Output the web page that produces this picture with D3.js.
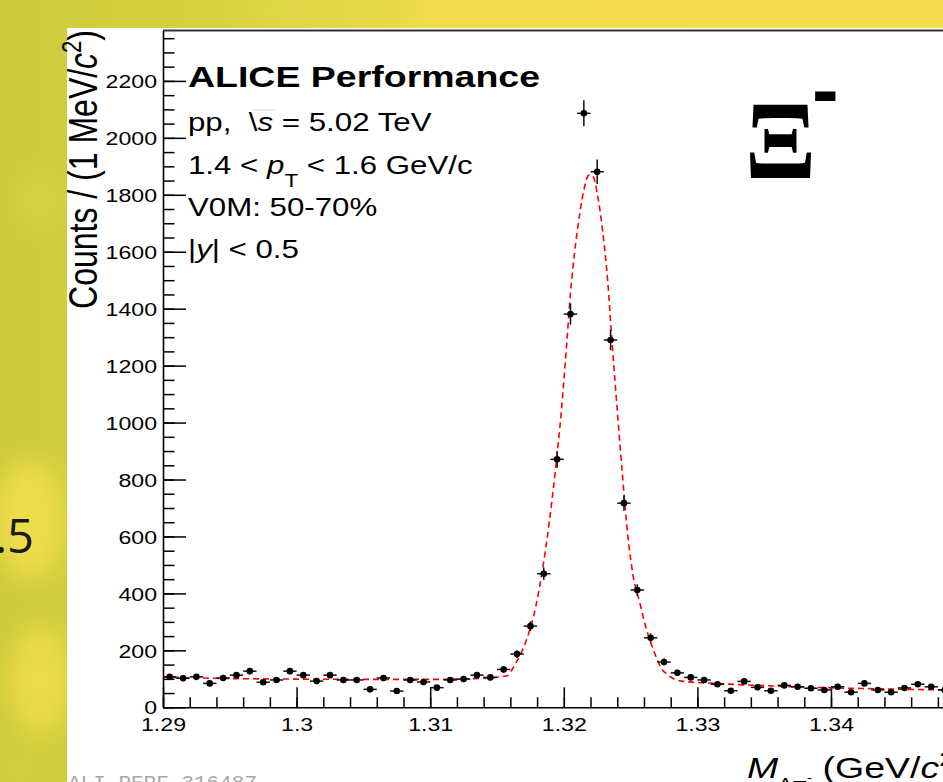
<!DOCTYPE html>
<html>
<head>
<meta charset="utf-8">
<script src="https://cdn.jsdelivr.net/npm/d3@7/dist/d3.min.js"></script>
<style>
  html, body { margin: 0; padding: 0; overflow: hidden; background: #fff; }
  svg { display: block; }
</style>
</head>
<body>
<svg id="chart" width="943" height="782"></svg>
<script>
// histogram: Lambda-pi invariant mass, 1 MeV bins starting at 1.290
const binLow = 1.290;
const binWidth = 0.001;
const counts = [
  107, 102, 107, 84, 103, 113, 127, 88, 96, 127,
  113, 92, 113, 96, 96, 63, 103, 57, 96, 89,
  69, 96, 99, 113, 105, 133, 187, 285, 469, 871,
  1381, 2086, 1881, 1290, 717, 412, 244, 159, 121, 105,
  96, 81, 58, 91, 70, 58, 77, 72, 67, 61,
  72, 53, 84, 61, 53, 68, 81, 72, 61
];

// fit curve (gaus + bkg)
const fitMass = [
  1.2900, 1.2950, 1.3000, 1.3050, 1.3100, 1.3138, 1.3157, 1.3164, 1.3172, 1.3179,
  1.3184, 1.3189, 1.3194, 1.3198, 1.3202, 1.3205, 1.3208, 1.3212, 1.3215, 1.3219,
  1.3222, 1.3225, 1.3229, 1.3233, 1.3236, 1.3240, 1.3244, 1.3248, 1.3252, 1.3257,
  1.3260, 1.3268, 1.3273, 1.3278, 1.3288, 1.3313, 1.3350, 1.3388, 1.3435, 1.3485
];
const fitCounts = [
  106, 101, 99, 98, 98, 102, 110, 155, 236, 353,
  482, 646, 845, 1032, 1266, 1454, 1594, 1735, 1817, 1870,
  1864, 1805, 1676, 1489, 1290, 1044, 810, 600, 459, 365,
  306, 190, 137, 113, 92, 84, 76, 70, 65, 61
];

const xTicks = [1.29, 1.30, 1.31, 1.32, 1.33, 1.34, 1.35];
const xTickLabels = ["1.29", "1.3", "1.31", "1.32", "1.33", "1.34", "1.35"];
const yTicks = [0, 200, 400, 600, 800, 1000, 1200, 1400, 1600, 1800, 2000, 2200];

const W = 943, H = 782;
const stretch = 1.25;   // the slide picture is stretched sideways
const svg = d3.select("#chart");

// ---- slide background ----
const defs = svg.append("defs");
const grad = defs.append("linearGradient").attr("id", "slideBg")
  .attr("x1", 0).attr("x2", 1).attr("y1", 0).attr("y2", 0);
grad.append("stop").attr("offset", "0%").attr("stop-color", "#cdcc3c");
grad.append("stop").attr("offset", "26%").attr("stop-color", "#d6d240");
grad.append("stop").attr("offset", "45%").attr("stop-color", "#f1dc4d");
grad.append("stop").attr("offset", "100%").attr("stop-color", "#f6de4f");
defs.append("filter").attr("id", "soft")
  .append("feGaussianBlur").attr("stdDeviation", 12);

svg.append("rect").attr("width", W).attr("height", H).attr("fill", "url(#slideBg)");
const blobs = svg.append("g").attr("filter", "url(#soft)");
[[40, 200, 25, 30, "#d3d243"], [30, 520, 35, 60, "#eedc4c"], [40, 680, 30, 55, "#ecdb4b"],
 [20, 770, 30, 30, "#d0cf3e"], [320, 10, 90, 16, "#e2d749"]]
  .forEach(b => blobs.append("ellipse")
    .attr("cx", b[0]).attr("cy", b[1]).attr("rx", b[2]).attr("ry", b[3]).attr("fill", b[4]));

svg.append("text").attr("x", 34).attr("y", 553)
  .attr("text-anchor", "end")
  .style("font-family", "'Open Sans', sans-serif").style("font-size", "47px")
  .attr("fill", "#1a1a1a").text(".5");

// white canvas of the plot
svg.append("rect").attr("x", 67).attr("y", 28).attr("width", W - 67).attr("height", H - 28)
  .attr("fill", "#fff");

// ---- scales ----
const x = d3.scaleLinear().domain([1.29, 1.36]).range([163, 1098.2]);
const y = d3.scaleLinear().domain([0, 2377]).range([707.3, 30.5]);

const plot = svg.append("g");

// frame top line
plot.append("line")
  .attr("x1", x(1.29)).attr("x2", W).attr("y1", y(2377)).attr("y2", y(2377))
  .attr("stroke", "#333").attr("stroke-width", 2);

const tickFont = "'Liberation Sans', Arial, sans-serif";

// y axis
const yMinor = d3.range(0, 2377, 50);
plot.append("g").attr("transform", `translate(${x(1.29)},0)`)
  .call(d3.axisLeft(y).tickValues(yMinor).tickSize(-11.5).tickSizeOuter(0).tickFormat(""))
  .call(g => g.select(".domain").remove())
  .selectAll("line").attr("stroke", "#000").attr("stroke-width", 1.5);

const yAxis = plot.append("g").attr("transform", `translate(${x(1.29)},0)`)
  .call(d3.axisLeft(y).tickValues(yTicks).tickSize(-23).tickSizeOuter(0).tickPadding(6)
    .tickFormat(d3.format("d")));
yAxis.select(".domain").attr("stroke", "#000").attr("stroke-width", 1.6);
yAxis.selectAll("line").attr("stroke", "#000").attr("stroke-width", 1.5);
yAxis.selectAll("text")
  .attr("x", -6 / stretch).attr("dy", "0.36em")
  .attr("transform", `scale(${stretch},1)`)
  .style("font-family", tickFont).style("font-size", "18.5px").attr("fill", "#000");

// x axis
const xMinor = d3.range(1.29, 1.3601, 0.002);
plot.append("g").attr("transform", `translate(0,${y(0)})`)
  .call(d3.axisBottom(x).tickValues(xMinor).tickSize(-10).tickSizeOuter(0).tickFormat(""))
  .call(g => g.select(".domain").remove())
  .selectAll("line").attr("stroke", "#000").attr("stroke-width", 1.5);

const xAxis = plot.append("g").attr("transform", `translate(0,${y(0)})`)
  .call(d3.axisBottom(x).tickValues(xTicks).tickSize(-20).tickSizeOuter(0).tickPadding(11)
    .tickFormat((d, i) => xTickLabels[i]));
xAxis.select(".domain").attr("stroke", "#000").attr("stroke-width", 1.6);
xAxis.selectAll("line").attr("stroke", "#000").attr("stroke-width", 1.5);
xAxis.selectAll("text")
  .attr("x", 0).attr("transform", `scale(${stretch},1)`)
  .style("font-family", tickFont).style("font-size", "18.5px").attr("fill", "#000");

// ---- fit curve ----
const fitPts = fitMass.map((m, i) => [m, fitCounts[i]]);
plot.append("path")
  .datum(fitPts)
  .attr("d", d3.line().x(d => x(d[0])).y(d => y(d[1])).curve(d3.curveMonotoneX))
  .attr("fill", "none").attr("stroke", "#ff0000").attr("stroke-width", 1.6)
  .attr("stroke-dasharray", "6,4");

// ---- data points with errors ----
const bins = counts.map((c, i) => ({
  lo: binLow + i * binWidth,
  mid: binLow + (i + 0.5) * binWidth,
  hi: binLow + (i + 1) * binWidth,
  n: c
}));
const pts = plot.append("g").selectAll("g").data(bins).enter().append("g");
pts.append("line")
  .attr("x1", d => x(d.lo)).attr("x2", d => x(d.hi))
  .attr("y1", d => y(d.n)).attr("y2", d => y(d.n))
  .attr("stroke", "#111").attr("stroke-width", 1.5);
pts.append("line")
  .attr("x1", d => x(d.mid)).attr("x2", d => x(d.mid))
  .attr("y1", d => y(d.n - Math.sqrt(d.n))).attr("y2", d => y(d.n + Math.sqrt(d.n)))
  .attr("stroke", "#111").attr("stroke-width", 1.5);
pts.append("circle")
  .attr("cx", d => x(d.mid)).attr("cy", d => y(d.n)).attr("r", 3.3)
  .attr("fill", "#000");

// ---- texts ----
function stretchedText(px, py, size, weight) {
  return svg.append("g").attr("transform", `translate(${px},${py}) scale(${stretch},1)`)
    .append("text")
    .style("font-family", tickFont).style("font-size", size + "px")
    .style("font-weight", weight || "normal").attr("fill", "#000");
}

stretchedText(188, 87, 30, "bold").text("ALICE Performance");

const ppLine = stretchedText(188, 131, 25);
ppLine.append("tspan").text("pp, ");
ppLine.append("tspan").attr("dx", 7).text("\\");
ppLine.append("tspan").style("font-style", "italic").text("s");
ppLine.append("tspan").text(" = 5.02 TeV");
// faint bar of the broken sqrt sign
{
  const node = ppLine.node();
  const s0 = node.getStartPositionOfChar(4), s1 = node.getEndPositionOfChar(5);
  d3.select(node.parentNode).append("line")
    .attr("x1", s0.x + 3).attr("x2", s1.x + 2).attr("y1", -21).attr("y2", -21)
    .attr("stroke", "#d8d8d8").attr("stroke-width", 1);
}

const ptLine = stretchedText(188, 174, 25);
ptLine.append("tspan").text("1.4 < ");
ptLine.append("tspan").style("font-style", "italic").text("p");
ptLine.append("tspan").attr("dy", 13).style("font-size", "18px").text("T");
ptLine.append("tspan").attr("dy", -13).text(" < 1.6 GeV/c");

stretchedText(188, 216, 25).text("V0M: 50-70%");

const yLine = stretchedText(188, 258, 25);
yLine.append("tspan").text("|");
yLine.append("tspan").style("font-style", "italic").text("y");
yLine.append("tspan").text("| < 0.5");

// particle label
svg.append("text").attr("x", 745).attr("y", 178)
  .attr("textLength", 71).attr("lengthAdjust", "spacingAndGlyphs")
  .style("font-family", "'Liberation Serif', 'DejaVu Serif', serif")
  .style("font-size", "113px").style("font-weight", "bold").attr("fill", "#000")
  .text("\u039E");
svg.append("text").attr("x", 812).attr("y", 117)
  .style("font-family", tickFont).style("font-size", "80px").style("font-weight", "bold")
  .attr("fill", "#000").text("-");

// y title
const yTitle = svg.append("g")
  .attr("transform", `translate(97,30) scale(${stretch},1) rotate(-90)`)
  .append("text").attr("text-anchor", "end")
  .style("font-family", tickFont).style("font-size", "32px").attr("fill", "#000");
yTitle.append("tspan").text("Counts / (1 MeV/");
yTitle.append("tspan").style("font-style", "italic").text("c");
yTitle.append("tspan").attr("dy", -13).style("font-size", "22px").text("2");
yTitle.append("tspan").attr("dy", 13).text(")");

// x title
const xTitle = stretchedText(747, 778, 30);
xTitle.append("tspan").style("font-style", "italic").text("M");
xTitle.append("tspan").attr("dy", 12).style("font-size", "17px").text("\u039B\u03C0");
xTitle.append("tspan").attr("dy", -8).style("font-size", "12px").text("-");
xTitle.append("tspan").attr("dy", -4).text(" (GeV/");
xTitle.append("tspan").style("font-style", "italic").text("c");
xTitle.append("tspan").attr("dy", -12).style("font-size", "21px").text("2");
xTitle.append("tspan").attr("dy", 12).text(")");

// figure id
svg.append("text").attr("x", 68).attr("y", 789)
  .style("font-family", "'Liberation Mono', 'DejaVu Sans Mono', monospace")
  .style("font-size", "21px").attr("fill", "#a8a8a8")
  .text("ALI-PERF-316487");
</script>
</body>
</html>
